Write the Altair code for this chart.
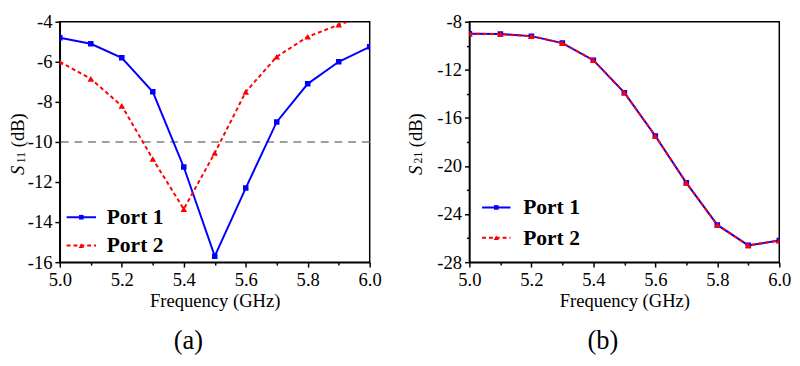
import altair as alt
import pandas as pd

# ---- data ----
freq = [5.0, 5.1, 5.2, 5.3, 5.4, 5.5, 5.6, 5.7, 5.8, 5.9, 6.0]
s11_port1 = [-4.8, -5.1, -5.8, -7.5, -11.25, -15.7, -12.3, -9.0, -7.1, -6.0, -5.25]
s11_port2 = [-6.0, -6.85, -8.2, -10.85, -13.35, -10.55, -7.5, -5.75, -4.75, -4.15, -3.65]
s21_port1 = [-9.0, -9.02, -9.2, -9.78, -11.2, -13.9, -17.5, -21.4, -24.9, -26.6, -26.2]
s21_port2 = [-9.0, -9.02, -9.2, -9.78, -11.2, -13.9, -17.5, -21.4, -24.9, -26.6, -26.2]
x_ticks = [5.0, 5.1, 5.2, 5.3, 5.4, 5.5, 5.6, 5.7, 5.8, 5.9, 6.0]
s11_ticks = [-16, -15, -14, -13, -12, -11, -10, -9, -8, -7, -6, -5, -4]
s21_ticks = [-28, -26, -24, -22, -20, -18, -16, -14, -12, -10, -8]
legend_labels = ["Port 1", "Port 2"]
ref_level = [-10]

FONT = "Times New Roman, Liberation Serif, DejaVu Serif, serif"
BLUE = "#0000FF"
RED = "#FF0000"
W, H = 317, 246


def frame(f, v):
    return pd.DataFrame({"freq": f, "val": v})


def panel(p1, p2, ydom, yticks, major_mod, sub, letter, leg, tx, title_dx, ref=None):
    xenc = alt.X(
        "freq:Q",
        scale=alt.Scale(domain=[5.0, 6.0], nice=False, zero=False),
        axis=alt.Axis(
            values=x_ticks,
            title="Frequency (GHz)",
            labelExpr="round(datum.value*10) % 2 == 0 ? format(datum.value, '.1f') : ''",
            tickSize={"condition": {"test": "round(datum.value*10) % 2 == 0", "value": 5}, "value": 3},
            labelPadding=4,
            titlePadding=2,
            labelFlush=False,
        ),
    )
    yenc = alt.Y(
        "val:Q",
        scale=alt.Scale(domain=ydom, nice=False, zero=False),
        axis=alt.Axis(
            values=yticks,
            title="",
            labelExpr=f"datum.value % {major_mod} == 0 ? toString(datum.value) : ''",
            tickSize={"condition": {"test": f"datum.value % {major_mod} == 0", "value": 5}, "value": 3},
            labelPadding=3,
            labelFlush=False,
        ),
    )
    layers = []
    if ref is not None:
        layers.append(
            alt.Chart(pd.DataFrame({"lvl": ref}))
            .mark_rule(color="#808080", strokeDash=[8, 6], strokeWidth=1.5)
            .encode(y=alt.Y("lvl:Q"))
        )
    layers += [
        alt.Chart(frame(freq, p1)).mark_line(color=BLUE, strokeWidth=2, clip=True).encode(x=xenc, y=yenc),
        alt.Chart(frame(freq, p1)).mark_point(shape="square", filled=True, size=32, color=BLUE, opacity=1, clip=True).encode(x=xenc, y=yenc),
        alt.Chart(frame(freq, p2)).mark_line(color=RED, strokeWidth=2, strokeDash=[4, 3], clip=True).encode(x=xenc, y=yenc),
        alt.Chart(frame(freq, p2)).mark_point(shape="triangle-up", filled=True, size=45, color=RED, opacity=1, clip=True).encode(x=xenc, y=yenc),
    ]
    # legend (manual)
    (lx0, lx1, ltx, ly) = leg
    styles = [(BLUE, [1, 0], "square", 22), (RED, [4, 3], "triangle-up", 30)]
    for i, lab in enumerate(legend_labels):
        col, dash, shp, sz = styles[i]
        ldf = pd.DataFrame({"label": [lab]})
        yy = ly[i]
        layers.append(alt.Chart(ldf).mark_rule(color=col, strokeWidth=2, strokeDash=dash).encode(
            x=alt.value(lx0), x2=alt.value(lx1), y=alt.value(yy)))
        layers.append(alt.Chart(ldf).mark_point(shape=shp, filled=True, size=sz, color=col, opacity=1).encode(
            x=alt.value((lx0 + lx1) / 2), y=alt.value(yy)))
        layers.append(alt.Chart(ldf).mark_text(font=FONT, fontSize=22, fontWeight="bold", align="left",
                                               baseline="middle", color="black").encode(
            x=alt.value(ltx), y=alt.value(yy), text="label:N"))
    # y-axis title with italic S and subscript
    cy = H / 2
    pieces = [("S", tx, cy + 29, 19, "italic"), (sub, tx + 3, cy + 16, 12, "normal"), ("(dB)", tx, cy - 12, 19, "normal")]
    for txt, px, py, fs, st in pieces:
        layers.append(
            alt.Chart(pd.DataFrame({"t": [txt]}))
            .mark_text(font=FONT, fontSize=fs, fontStyle=st, angle=270, align="center", baseline="middle", color="black")
            .encode(x=alt.value(px), y=alt.value(py), text="t:N")
        )
    return alt.layer(*layers).properties(
        width=W,
        height=H,
        title=alt.TitleParams(letter, orient="bottom", font=FONT, fontSize=27, fontWeight="normal",
                              offset=19, frame="bounds", dx=title_dx, color="black"),
    )


left = panel(s11_port1, s11_port2, [-16, -4], s11_ticks, 2, "11", "(a)",
             (7, 37, 48, [200, 229]), -43, -7, ref=ref_level)
right = panel(s21_port1, s21_port2, [-28, -8], s21_ticks, 4, "21", "(b)",
              (13, 42, 55, [190, 221]), -55, 4)

chart = (
    alt.hconcat(left, right, spacing=24)
    .properties(padding={"left": 0, "top": 0, "right": 0, "bottom": 0}, background="white")
    .configure_view(stroke="black", strokeWidth=1.5)
    .configure_axis(
        labelFont=FONT, labelFontSize=19, labelColor="black",
        titleFont=FONT, titleFontSize=19, titleFontWeight="normal", titleColor="black",
        domainColor="black", domainWidth=1.5, tickColor="black", tickWidth=1.5, grid=False,
    )
)

chart.save("out.html", embed_options={"renderer": "svg", "actions": False})
